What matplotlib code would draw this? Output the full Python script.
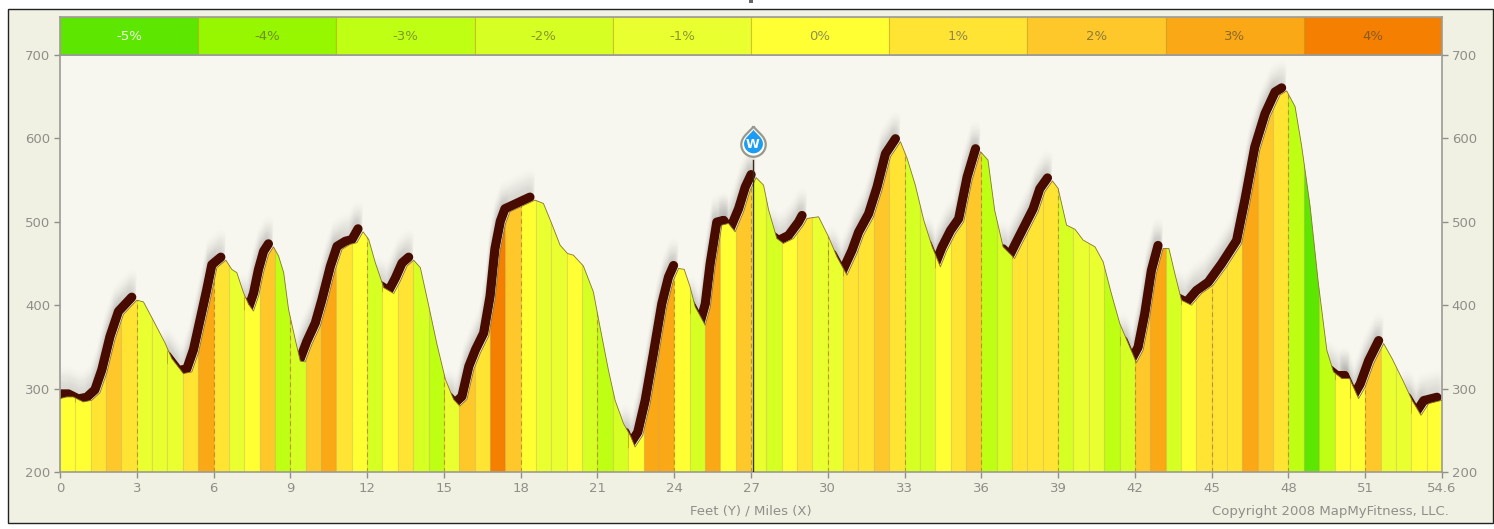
#!/usr/bin/env python3
# elevation profile with grade colouring
import numpy as np
import matplotlib
matplotlib.use("Agg")
from matplotlib import pyplot as plt
from matplotlib.path import Path
from matplotlib.patches import PathPatch, Rectangle
from matplotlib.transforms import offset_copy

W, H = 1494, 529

# route surface
miles = [0, .26, .52, .91, 1.24, 1.56, 1.83, 2.15, 2.48, 3.0, 3.26, 3.59, 4.1, 4.37, 4.82, 5.15, 5.41, 5.67, 5.93,
         6.13, 6.48, 6.71, 6.91, 7.17, 7.37, 7.56, 7.76, 7.95, 8.15, 8.34, 8.54, 8.74, 8.93, 9.19, 9.39, 9.58, 9.84,
         10.17, 10.43, 10.76, 11.02, 11.34, 11.6, 11.84, 12.06, 12.32, 12.65, 13.04, 13.3, 13.56, 13.82, 14.08, 14.41,
         14.73, 15.06, 15.38, 15.62, 15.9, 16.17, 16.43, 16.75, 17.0, 17.19, 17.4, 17.58, 18.0, 18.56, 18.89, 19.21,
         19.54, 19.83, 20.06, 20.45, 20.84, 21.1, 21.43, 21.69, 22.02, 22.28, 22.47, 22.77, 23.06, 23.38, 23.71, 23.97,
         24.17, 24.39, 24.62, 24.82, 25.21, 25.41, 25.6, 25.86, 26.12, 26.38, 26.71, 26.97, 27.2, 27.49, 27.69, 28.01,
         28.27, 28.66, 29.05, 29.19, 29.64, 30.03, 30.36, 30.75, 31.14, 31.4, 31.79, 32.12, 32.45, 32.84, 33.1, 33.42,
         33.75, 34.08, 34.4, 34.66, 34.99, 35.31, 35.64, 35.97, 36.26, 36.52, 36.85, 37.04, 37.3, 37.56, 37.89, 38.22,
         38.48, 38.78, 39.0, 39.33, 39.66, 39.98, 40.44, 40.76, 41.08, 41.41, 41.74, 42.06, 42.32, 42.58, 42.84, 43.1,
         43.33, 43.56, 43.82, 44.21, 44.6, 45.06, 45.58, 46.17, 46.49, 46.88, 47.28, 47.67, 47.93, 48.26, 48.52, 48.85,
         49.17, 49.5, 49.76, 50.09, 50.39, 50.74, 51.0, 51.33, 51.72, 52.05, 52.5, 52.83, 53.18, 53.48, 54.0]
elev = [288, 290, 290, 284, 286, 295, 319, 359, 389, 406, 404, 385, 355, 336, 318, 320, 343, 379, 415,
        445, 454, 443, 439, 415, 401, 393, 411, 439, 461, 470, 459, 439, 395, 359, 333, 332, 353,
        375, 403, 443, 467, 473, 475, 488, 479, 451, 421, 414, 429, 447, 454, 445, 399,
        353, 311, 287, 279, 287, 323, 343, 363, 407, 464, 497, 512, 518, 526, 522, 498,
        472, 462, 460, 447, 416, 374, 322, 286, 258, 244, 230, 244, 282, 338, 398, 430,
        444, 443, 422, 398, 376, 398, 446, 496, 498, 488, 512, 538, 553, 544, 514, 480,
        474, 480, 496, 504, 506, 482, 458, 436, 462, 484, 506, 538, 578, 596, 576, 544,
        502, 470, 446, 466, 486, 500, 550, 584, 574, 514, 470, 464, 456, 472, 492, 512,
        536, 549, 540, 496, 491, 478, 470, 452, 414, 378, 354, 331, 346, 386, 438, 468,
        468, 438, 406, 400, 414, 424, 446, 474, 522, 586, 626, 652, 657, 638, 590, 518,
        426, 346, 320, 312, 312, 288, 302, 330, 354, 336, 308, 286, 268, 282, 286]

# grade of each 0.6 mile stretch
seg_width = 0.6
grades = [0, 0, 1, 2, 1, -1, -1, -1, 1, 3, 1, -1, 0, 2, -3, -2, 2, 3, 1, 0,
          -2, 0, 1, -2, -3, -1, 2, 1, 4, 2, 0, -1, -1, 0, -2, -3, -2, 0, 3, 3,
          0, -2, 3, 0, 2, -1, -2, 0, 1, -1, -1, 1, 1, 2, 1, -2, -2, 0, 1, 2,
          -3, -2, 1, 1, 1, -2, -1, -1, -3, -2, 2, 3, -2, 0, 1, 1, 1, 3, 2, 1,
          -3, -5, -3, 0, 0, 2, -1, -1, 0, 0]

# stretches carrying the heavy climb line (start, end mile)
climbs = [(0.0, 3.0), (4.37, 6.48), (7.37, 8.34), (9.39, 11.84), (12.65, 13.82), (15.38, 18.56),
          (22.28, 24.17), (24.82, 26.12), (26.12, 27.2), (28.01, 29.3), (30.36, 32.84), (34.08, 35.97),
          (37.04, 38.78), (40.2, 40.5), (41.74, 43.1), (43.82, 47.93), (49.76, 50.39), (50.39, 51.72), (52.83, 54.0)]

legend_grades = [-5, -4, -3, -2, -1, 0, 1, 2, 3, 4]
legend_colors = ["#5ce600", "#96f700", "#bfff14", "#d6ff24", "#eaff30",
                 "#ffff33", "#ffe433", "#ffc82a", "#fba816", "#f57f00"]
legend_text = ["#f4f8ea", "#6f8f2a", "#7f9a2a", "#87962c", "#8c962e",
               "#8f8f50", "#8f8650", "#8a7a3a", "#8a6a2a", "#8a5a20"]

xticks = list(range(0, 55, 3))
xticklabels = [str(t) for t in xticks[:-1]] + ["54.6"]
yticks = [200, 300, 400, 500, 600, 700]
waypoint_mile, waypoint_top, waypoint_elev = 27.07, 574, 597

GREY = "#8f8f8a"
BG = "#f1f1e3"
PLOT_BG = "#f7f6ef"
grade_color = dict(zip(legend_grades, legend_colors))

plt.rcParams["font.family"] = "DejaVu Sans"
fig = plt.figure(figsize=(W / 100, H / 100), dpi=100, facecolor="white")


def px_axes(x0, y0, x1, y1, **kw):
    return fig.add_axes([x0 / W, 1 - y1 / H, (x1 - x0) / W, (y1 - y0) / H], **kw)


# outer panel, sits behind the axes
fig.add_artist(Rectangle((7.5 / W, 1 - 523 / H), 1485 / W, 514 / H, transform=fig.transFigure,
                         facecolor=BG, edgecolor="#222222", lw=1.0, zorder=-1))
# bit of the cut off title above the panel
fig.add_artist(Rectangle((749 / W, 1 - 2.5 / H), 4 / W, 2.5 / H, transform=fig.transFigure,
                         facecolor="#666666", edgecolor="none", zorder=-1))

ax = px_axes(60, 55, 1442, 472, facecolor=PLOT_BG)
ax.set_xlim(0, 54)
ax.set_ylim(200, 700)

miles_a = np.array(miles)
elev_a = np.array(elev)

# soft shadow + heavy climb line, shifted up and left and tucked behind the fill
for a, b in climbs:
    keep = (miles_a >= a) & (miles_a <= b)
    for k in range(12):
        shade = offset_copy(ax.transData, fig=fig, x=-5, y=4 + k * 2, units="dots")
        ax.plot(miles_a[keep], elev_a[keep], color="#555555", lw=6 + k * 0.15, alpha=0.05 * (1 - k / 12),
                transform=shade, solid_capstyle="round", zorder=0.5)
    heavy = offset_copy(ax.transData, fig=fig, x=-5, y=3, units="dots")
    ax.plot(miles_a[keep], elev_a[keep], color="#470b00", lw=6.6, transform=heavy,
            solid_capstyle="round", solid_joinstyle="round", zorder=0.6)

# coloured stretches, clipped to the profile
area_xy = np.column_stack([np.r_[miles_a[0], miles_a, miles_a[-1]], np.r_[200, elev_a, 200]])
area = PathPatch(Path(area_xy), transform=ax.transData, facecolor="none", edgecolor="none")
ax.add_patch(area)
seg_left = np.arange(len(grades)) * seg_width
bars = ax.bar(seg_left, [500] * len(grades), width=seg_width, bottom=200, align="edge",
              color=[grade_color[g] for g in grades], edgecolor=(0.55, 0.4, 0.0, 0.14), linewidth=0.8, zorder=1)
for b in bars:
    b.set_clip_path(area)
for t in xticks[1:-1]:
    ln, = ax.plot([t, t], [200, 700], color="#b0701e", lw=0.8, ls=(0, (4, 3)), alpha=0.65, zorder=2)
    ln.set_clip_path(area)
ax.plot(miles, elev, color="#8a7424", lw=0.6, zorder=5)

# water stop
ax.plot([waypoint_mile, waypoint_mile], [200, waypoint_top], color="#3a2a20", lw=1.0, zorder=6)
drop = Path([(0, 1.25), (-0.25, 0.8), (-1, 0.45), (-1, -0.25), (-1, -0.8), (-0.55, -1.25), (0, -1.25),
             (0.55, -1.25), (1, -0.8), (1, -0.25), (1, 0.45), (0.25, 0.8), (0, 1.25)],
            [Path.MOVETO] + [Path.CURVE4] * 12)
ax.plot([waypoint_mile], [waypoint_elev], marker=drop, ms=22, mfc="#ffffff", mec="#99988c", mew=1.6, zorder=7)
ax.plot([waypoint_mile], [waypoint_elev], marker=drop, ms=17, mfc="#1c9cf2", mec="none", zorder=8)
ax.text(waypoint_mile, waypoint_elev - 4, "W", color="white", fontsize=9, fontweight="bold",
        ha="center", va="center", zorder=9)

ax.set_xticks(xticks)
ax.set_xticklabels(xticklabels)
ax.set_yticks(yticks)
ax.tick_params(axis="both", colors=GREY, labelcolor=GREY, labelsize=9.5, length=4, width=1, pad=3)
ax.tick_params(axis="y", labelright=True, right=True)
for s in ax.spines.values():
    s.set_color("#9b9b96")
    s.set_linewidth(1.2)

# grade legend band
leg = px_axes(60, 17, 1442, 55)
leg.set_xlim(0, len(legend_grades))
leg.set_ylim(0, 1)
leg.bar(range(len(legend_grades)), [1] * len(legend_grades), width=1, align="edge",
        color=legend_colors, edgecolor=(0.7, 0.55, 0.0, 0.4), linewidth=0.8)
for i, g in enumerate(legend_grades):
    leg.text(i + 0.5, 0.5, f"{g}%", color=legend_text[i], fontsize=9.5, ha="center", va="center")
leg.set_xticks([])
leg.set_yticks([])
for s in leg.spines.values():
    s.set_color("#9b9b96")
    s.set_linewidth(1.2)

fig.text(751 / W, 1 - 505 / H, "Feet (Y) / Miles (X)", color=GREY, fontsize=9.5, ha="center", va="top")
fig.text(1449 / W, 1 - 505 / H, "Copyright 2008 MapMyFitness, LLC.", color=GREY, fontsize=9.5, ha="right", va="top")

fig.savefig("out.png", dpi=100, facecolor="white")
